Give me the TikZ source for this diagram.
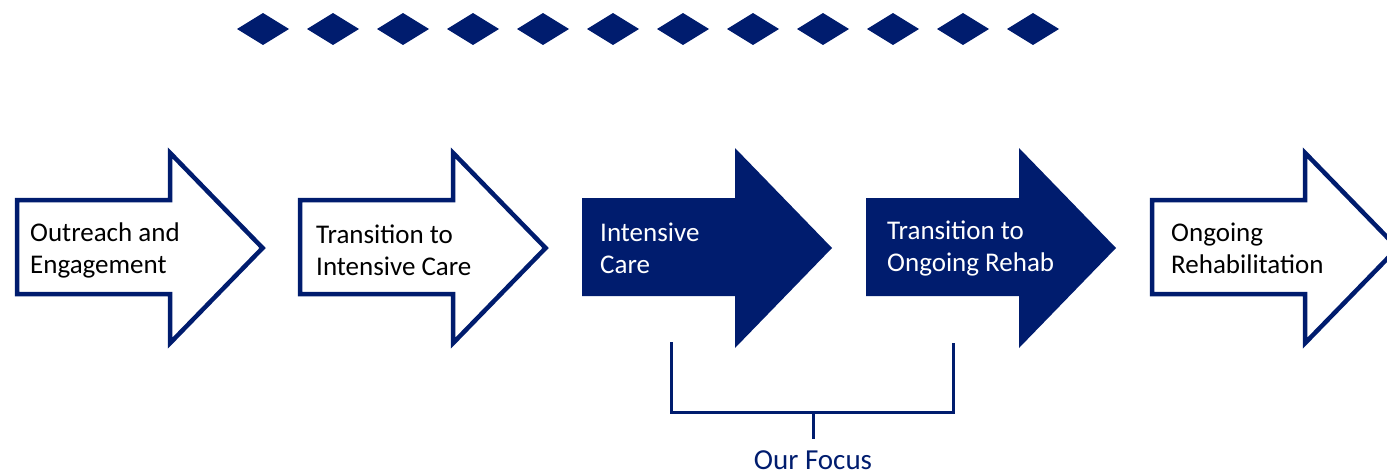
\documentclass[tikz,border=0pt]{standalone}
\usepackage{fontspec}
\setmainfont{Carlito}
\definecolor{navy}{RGB}{0,28,110}
\tikzset{
  % block arrow, origin at the top-left corner of its body; #1 insets the outline
  pics/stagearrow/.style={code={
    \path[pic actions] (#1,#1) -- (153+#1,#1) -- (153+#1,{-50+2.4*#1})
      -- ({250-1.2*#1},50) -- (153+#1,{150-2.4*#1}) -- (153+#1,{98-#1})
      -- (#1,{98-#1}) -- cycle;}},
  hollowstage/.style={draw=navy,line width=4.5pt,fill=white,line join=miter},
  solidstage/.style={fill=navy},
  stagetext/.style={anchor=west,align=left,inner sep=0pt,
    font=\fontsize{27}{32}\selectfont},
  gem/.style={fill=navy},
  bracketline/.style={draw=navy,line width=3pt}
}
\begin{document}
\begin{tikzpicture}[x=1pt,y=-1pt]
\useasboundingbox (0,0) rectangle (1387,474);

% row of diamonds along the top
\foreach \i in {0,...,11}
  \fill[gem] ({263+70*\i-26},29) -- ({263+70*\i},13) -- ({263+70*\i+26},29)
    -- ({263+70*\i},45) -- cycle;

% process stages
\pic[hollowstage] at (15,198) {stagearrow=2};
\pic[hollowstage] at (298,198) {stagearrow=2};
\pic[solidstage]  at (582,198) {stagearrow=0};
\pic[solidstage]  at (866,198) {stagearrow=0};
\pic[hollowstage] at (1150,198) {stagearrow=2};

\node[stagetext] (s1) at (30,250)   {Outreach and\\Engagement};
\node[stagetext] (s2) at (316,250)  {Transition to\\Intensive Care};
\node[stagetext, text=white] (s3) at (600,248)  {Intensive\\Care};
\node[stagetext, text=white] (s4) at (887,248)  {Transition to\\Ongoing Rehab};
\node[stagetext] (s5) at (1171,248) {Ongoing\\Rehabilitation};

% bracket under the two highlighted stages
\coordinate (bl) at (671,342);
\coordinate (br) at (953,343);
\coordinate (bm) at (813,412);
\node[text=navy, font=\fontsize{29}{32}\selectfont, anchor=base, inner sep=0pt,
  outer ysep=11pt] (focus) at (813,469) {Our Focus};
\draw[bracketline] (bl) |- (bm) -| (br);
\draw[bracketline] (bm) -- (focus.north);
\end{tikzpicture}
\end{document}
